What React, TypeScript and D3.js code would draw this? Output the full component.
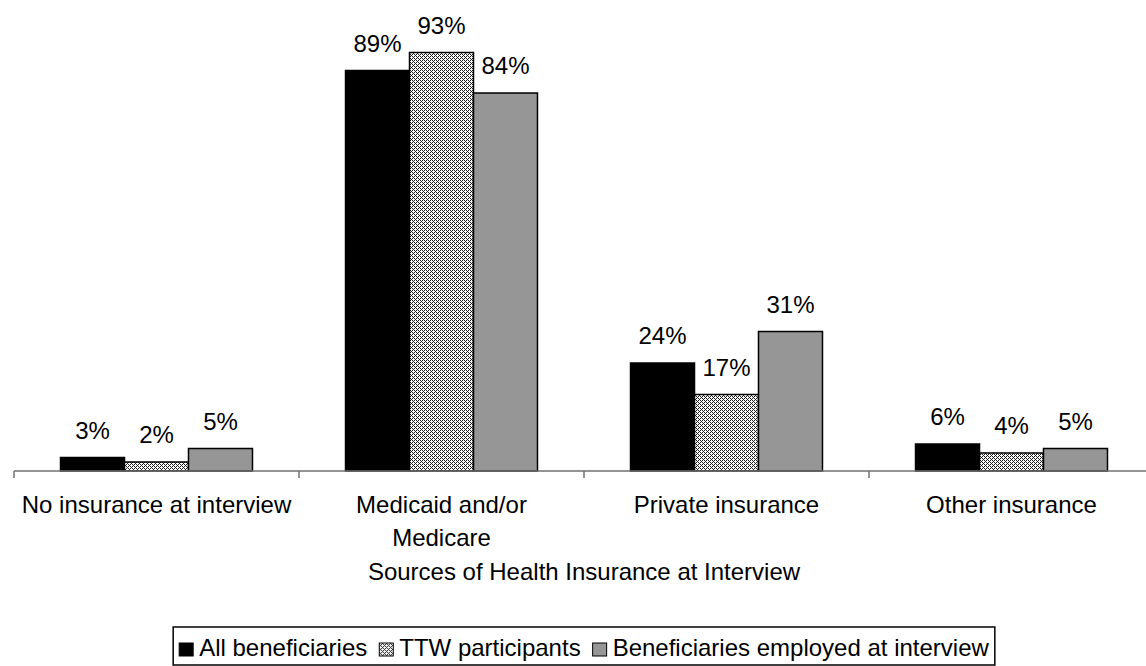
import React, { useEffect, useRef } from "react";
import * as d3 from "d3";

const categories = [
  ["No insurance at interview"],
  ["Medicaid and/or", "Medicare"],
  ["Private insurance"],
  ["Other insurance"],
];
const seriesNames = ["All beneficiaries", "TTW participants", "Beneficiaries employed at interview"];
const allBeneficiaries = [3, 89, 24, 6];
const ttwParticipants = [2, 93, 17, 4];
const employedAtInterview = [5, 84, 31, 5];
const axisTitle = "Sources of Health Insurance at Interview";

const W = 1146;
const H = 666;
const FONT = "'Liberation Sans', Arial, sans-serif";
const FS = 24;

export default function App() {
  const ref = useRef<SVGSVGElement | null>(null);

  useEffect(() => {
    const svg = d3.select(ref.current);
    svg.selectAll("*").remove();

    const defs = svg.append("defs");
    const pat = defs
      .append("pattern")
      .attr("id", "ttw")
      .attr("patternUnits", "userSpaceOnUse")
      .attr("width", 4)
      .attr("height", 4);
    pat.append("rect").attr("width", 4).attr("height", 4).attr("fill", "#ffffff");
    for (let yy = 0; yy < 4; yy++) {
      for (let xx = 0; xx < 4; xx++) {
        const m = (((xx - yy) % 4) + 4) % 4;
        if (m === 0 || (m === 2 && xx % 2 === 0)) {
          pat.append("rect").attr("x", xx).attr("y", yy).attr("width", 1).attr("height", 1).attr("fill", "#222222");
        }
      }
    }

    const fills = ["#000000", "url(#ttw)", "#969696"];
    const seriesData = [allBeneficiaries, ttwParticipants, employedAtInterview];

    const catKeys = categories.map((c, i) => String(i));
    const x0 = d3.scaleBand<string>().domain(catKeys).range([14, 1154]).paddingInner(0).paddingOuter(0);
    const x1 = d3
      .scaleBand<string>()
      .domain(seriesNames)
      .range([0, x0.bandwidth()])
      .paddingInner(0)
      .paddingOuter(0.727);
    const y = d3.scaleLinear().domain([0, 100]).range([471, 21]);

    // bars
    catKeys.forEach((ck, ci) => {
      seriesNames.forEach((sn, si) => {
        const v = seriesData[si][ci];
        const bx = (x0(ck) as number) + (x1(sn) as number);
        const by = y(v);
        svg
          .append("rect")
          .attr("x", bx)
          .attr("y", by)
          .attr("width", x1.bandwidth())
          .attr("height", y(0) - by)
          .attr("fill", fills[si])
          .attr("stroke", "#000")
          .attr("stroke-width", 1.5);
        svg
          .append("text")
          .attr("x", bx + x1.bandwidth() / 2)
          .attr("y", by - 19)
          .attr("text-anchor", "middle")
          .attr("font-family", FONT)
          .attr("font-size", FS)
          .attr("fill", "#000")
          .text(`${v}%`);
      });
    });

    // axis
    svg
      .append("line")
      .attr("x1", x0.range()[0])
      .attr("x2", x0.range()[1])
      .attr("y1", y(0))
      .attr("y2", y(0))
      .attr("stroke", "#707070")
      .attr("stroke-width", 1.5);
    catKeys.forEach((ck) => {
      const tx = x0(ck) as number;
      svg
        .append("line")
        .attr("x1", tx)
        .attr("x2", tx)
        .attr("y1", y(0))
        .attr("y2", y(0) + 7)
        .attr("stroke", "#707070")
        .attr("stroke-width", 1.5);
    });

    // category labels
    catKeys.forEach((ck, ci) => {
      const cx = (x0(ck) as number) + x0.bandwidth() / 2;
      categories[ci].forEach((line, li) => {
        svg
          .append("text")
          .attr("x", cx)
          .attr("y", 513 + li * 33)
          .attr("text-anchor", "middle")
          .attr("font-family", FONT)
          .attr("font-size", FS)
          .attr("fill", "#000")
          .text(line);
      });
    });

    // axis title
    svg
      .append("text")
      .attr("x", (x0.range()[0] + x0.range()[1]) / 2)
      .attr("y", 580)
      .attr("text-anchor", "middle")
      .attr("font-family", FONT)
      .attr("font-size", FS)
      .attr("fill", "#000")
      .text(axisTitle);

    // legend
    const lg = svg.append("g");
    const sw = 14;
    const gapSwText = 6;
    const gapItem = 12;
    let cursor = 0;
    seriesNames.forEach((sn, si) => {
      lg.append("rect")
        .attr("x", cursor)
        .attr("y", 643)
        .attr("width", sw)
        .attr("height", 13)
        .attr("fill", fills[si])
        .attr("stroke", "#000")
        .attr("stroke-width", 1);
      const t = lg
        .append("text")
        .attr("x", cursor + sw + gapSwText)
        .attr("y", 656)
        .attr("font-family", FONT)
        .attr("font-size", FS)
        .attr("fill", "#000")
        .text(sn);
      const tw = (t.node() as SVGTextElement).getComputedTextLength();
      cursor += sw + gapSwText + tw + (si < seriesNames.length - 1 ? gapItem : 0);
    });
    const totalW = cursor;
    const cxLeg = (x0.range()[0] + x0.range()[1]) / 2;
    const lx = cxLeg - totalW / 2;
    lg.attr("transform", `translate(${lx},0)`);
    lg.insert("rect", ":first-child")
      .attr("x", -6)
      .attr("y", 627)
      .attr("width", totalW + 12)
      .attr("height", 38)
      .attr("fill", "#fff")
      .attr("stroke", "#000")
      .attr("stroke-width", 1.5);
  }, []);

  return (
    <svg
      ref={ref}
      width={W}
      height={H}
      style={{ position: "absolute", left: 0, top: 0, display: "block", background: "#fff" }}
    />
  );
}
